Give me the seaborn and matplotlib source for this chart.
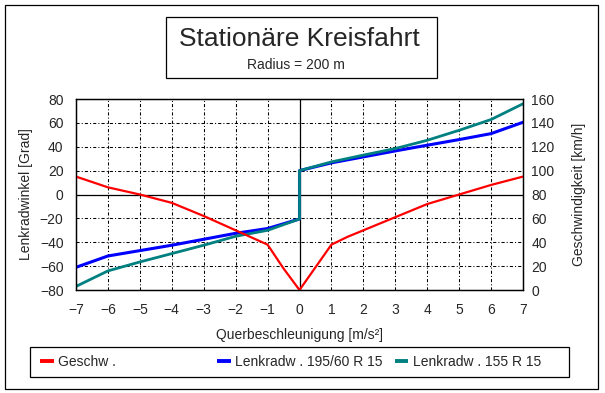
import matplotlib
matplotlib.use("Agg")
import matplotlib.pyplot as plt
from matplotlib.patches import Rectangle
import seaborn as sns

# Querbeschleunigung [m/s^2] for the speed curve
accel = [-7, -6, -5, -4, -3, -2, -1.5, -1, -0.5, 0, 0.5, 1, 1.5, 2, 3, 4, 5, 6, 7]
speed = [95, 86, 80, 73, 62, 50, 44, 38, 18, 0, 19, 38, 44.5, 50, 61, 72, 80, 88, 95]

# steering wheel angle (jump at 0)
steer_x = [-7, -6, -5, -4, -3, -2, -1, 0, 0, 1, 2, 3, 4, 5, 6, 7]
steer_195 = [-61, -51.5, -47, -42.5, -37.5, -32.5, -28.5, -20.5, 20, 26.5, 31.5, 36.5, 41.3, 46, 51, 60.5]
steer_155 = [-77, -64, -56.5, -49.5, -42.5, -35, -30, -20.5, 20, 27.3, 33, 38.5, 45.4, 53.8, 62.8, 76]

x_ticks = list(range(-7, 8))
left_ticks = list(range(-80, 81, 20))
right_ticks = list(range(0, 161, 20))

sns.set_style("white")
plt.rcParams["font.family"] = ["Liberation Sans", "DejaVu Sans"]
plt.rcParams["font.size"] = 10

W, H = 605, 393
fig = plt.figure(figsize=(W / 100, H / 100), dpi=100)
fig.patch.set_facecolor("white")

ax = fig.add_axes([76 / W, 1 - 290 / H, 447 / W, 191 / H])
ax2 = ax.twinx()

sns.lineplot(x=steer_x, y=steer_195, ax=ax, color="#0000FF", linewidth=2.2,
             estimator=None, sort=False, legend=False)
h_blue = ax.lines[-1]
sns.lineplot(x=steer_x, y=steer_155, ax=ax, color="#008080", linewidth=2.0,
             estimator=None, sort=False, legend=False)
h_teal = ax.lines[-1]
sns.lineplot(x=accel, y=speed, ax=ax2, color="#FF0000", linewidth=1.6,
             estimator=None, sort=False, legend=False)
h_red = ax2.lines[-1]

ax.set_xlim(-7, 7)
ax.set_ylim(-80, 80)
ax2.set_ylim(0, 160)
ax.set_xticks(x_ticks)
ax.set_yticks(left_ticks)
ax2.set_yticks(right_ticks)

ax.grid(True, color="black", linestyle=(0, (3, 2, 1, 2)), linewidth=0.75)
ax.axhline(0, color="black", linewidth=0.9, zorder=1)
ax.axvline(0, color="black", linewidth=0.9, zorder=1)
ax2.grid(False)

for a in (ax, ax2):
    for s in a.spines.values():
        s.set_color("black")
        s.set_linewidth(0.9)
ax.tick_params(axis="x", length=0, pad=9, labelsize=10)
ax.tick_params(axis="y", length=0, pad=9, labelsize=10)
ax2.tick_params(axis="y", length=0, pad=6, labelsize=10)

ax.set_xlabel("Querbeschleunigung [m/s²]", fontsize=10)
ax.xaxis.set_label_coords(0.5, -0.197)
ax.set_ylabel("Lenkradwinkel [Grad]", fontsize=10)
ax.yaxis.set_label_coords(-0.097, 0.5)
ax2.set_ylabel("Geschwindigkeit [km/h]", fontsize=10)
ax2.yaxis.set_label_coords(1.109, 0.5)

# outer frame
fig.add_artist(Rectangle((4.5 / W, 1 - 389 / H), 593.5 / W, 384 / H,
                         transform=fig.transFigure, fill=False, ec="black", lw=0.9))
# title box
fig.add_artist(Rectangle((166 / W, 1 - 78.3 / H), 271 / W, 61.6 / H,
                         transform=fig.transFigure, fill=False, ec="black", lw=0.9))
fig.text(299.5 / W, 1 - 46.5 / H, "Stationäre Kreisfahrt", ha="center", va="baseline", fontsize=19)
fig.text(296 / W, 1 - 69 / H, "Radius = 200 m", ha="center", va="baseline", fontsize=10)

# legend box
fig.add_artist(Rectangle((30 / W, 1 - 376.7 / H), 538.6 / W, 29.4 / H,
                         transform=fig.transFigure, fill=False, ec="black", lw=0.9))
entries = [(h_red, "Geschw .", 40), (h_blue, "Lenkradw . 195/60 R 15", 217),
           (h_teal, "Lenkradw . 155 R 15", 394.5)]
for handle, label, xpos in entries:
    lg = fig.legend([handle], [label], loc="center left",
                    bbox_to_anchor=(xpos / W, 1 - 362 / H), frameon=False,
                    borderpad=0, borderaxespad=0, handlelength=1.0,
                    handletextpad=0.33, fontsize=10)
    for ln in lg.get_lines():
        ln.set_linewidth(2.8)
        ln.set_solid_capstyle("butt")

fig.savefig("out.png", dpi=100)
